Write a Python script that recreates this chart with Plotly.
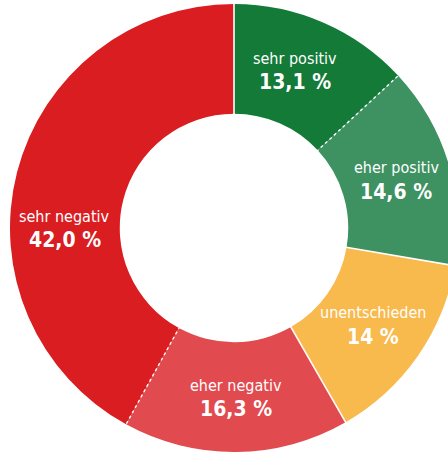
import math
import plotly.graph_objects as go

# Data (clockwise from 12 o'clock)
labels = ["sehr positiv", "eher positiv", "unentschieden", "eher negativ", "sehr negativ"]
values = [13.1, 14.6, 14.0, 16.3, 42.0]
value_text = ["13,1 %", "14,6 %", "14 %", "16,3 %", "42,0 %"]
colors = ["#137a38", "#3e9160", "#f8b94d", "#e14a4f", "#d91d21"]
# boundary style after each slice (between slice i and i+1)
boundary_dash = ["dot", "solid", "solid", "dot", "solid"]

W, H = 458, 456
ML, MR, MT, MB = 10, 0, 2, 2
PW, PH = W - ML - MR, H - MT - MB
R = min(PW, PH) / 2
HOLE = 0.51
FONT = "Liberation Sans Narrow, DejaVu Sans Condensed, Roboto, sans-serif"

fig = go.Figure(go.Pie(
    labels=labels, values=values, sort=False, direction="clockwise", rotation=0,
    hole=HOLE, marker=dict(colors=colors, line=dict(width=0)),
    textinfo="none", hoverinfo="none", showlegend=False,
))

def to_paper(r_px, theta_deg):
    t = math.radians(theta_deg)
    return 0.5 + r_px * math.sin(t) / PW, 0.5 + r_px * math.cos(t) / PH

total = sum(values)
cum = 0.0
shapes = []
annotations = []
label_angle_override = {"sehr negativ": 270.0, "sehr positiv": 21.0}
for lab, v, vt, dash in zip(labels, values, value_text, boundary_dash):
    start = cum / total * 360
    cum += v
    end = cum / total * 360
    mid = label_angle_override.get(lab, (start + end) / 2)
    x0, y0 = to_paper(R * HOLE - 2, end)
    x1, y1 = to_paper(R + 4, end)
    shapes.append(dict(type="line", xref="paper", yref="paper", x0=x0, y0=y0, x1=x1, y1=y1,
                       line=dict(color="white", width=1.6 if dash == "solid" else 1.4, dash=dash)))
    rl = R * (1 + HOLE) / 2
    lx, ly = to_paper(rl, mid)
    annotations.append(dict(x=lx, y=ly, xref="paper", yref="paper", text=lab, showarrow=False,
                            xanchor="center", yanchor="middle", yshift=12,
                            font=dict(family=FONT, size=16, color="white")))
    annotations.append(dict(x=lx, y=ly, xref="paper", yref="paper", text="<b>" + vt + "</b>", showarrow=False,
                            xanchor="center", yanchor="middle", yshift=-12,
                            font=dict(family=FONT, size=21, color="white")))

fig.update_layout(
    width=W, height=H, margin=dict(l=ML, r=MR, t=MT, b=MB),
    paper_bgcolor="white", plot_bgcolor="white",
    shapes=shapes, annotations=annotations,
)

fig.write_html("out.html", post_script=(
    "document.documentElement.style.overflow='hidden';"
    "document.body.style.overflow='hidden';document.body.style.margin='0';"
))
